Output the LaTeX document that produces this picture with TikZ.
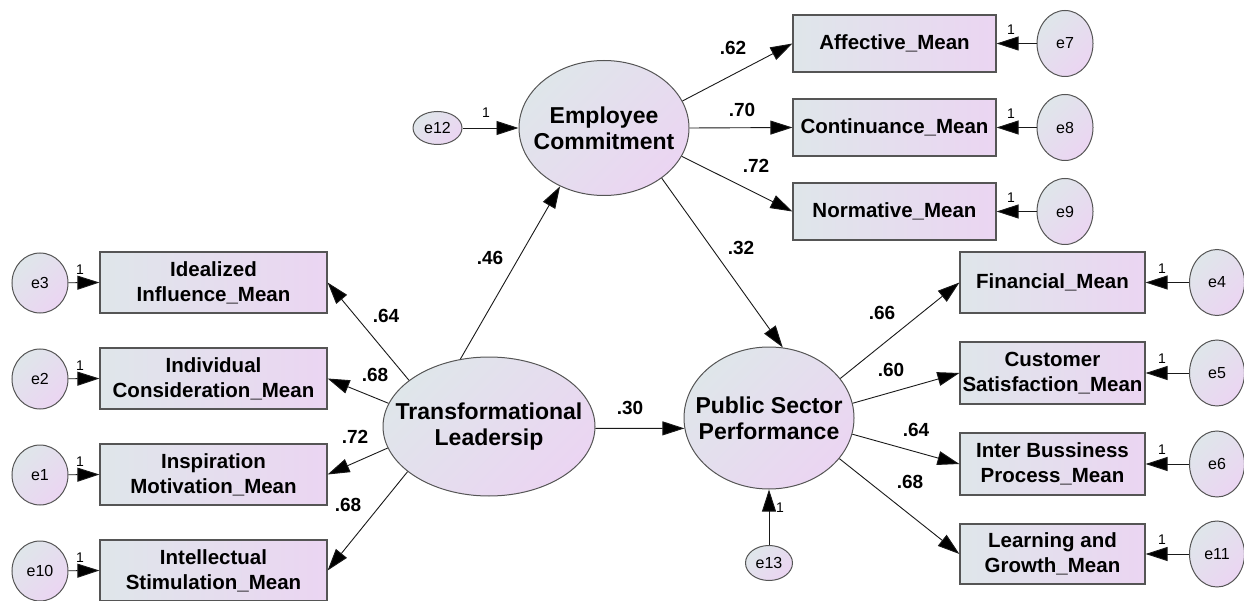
\documentclass[tikz,border=0pt]{standalone}
\usepackage{fontspec}
\setmainfont{Liberation Sans}
\usetikzlibrary{arrows.meta,shapes.geometric}
\definecolor{gA}{HTML}{DFE6EA}
\definecolor{gB}{HTML}{EBD5F2}
\definecolor{edge}{HTML}{555555}
\tikzset{
  obsbox/.style={draw=edge, line width=1.2pt, left color=gA, right color=gB,
    minimum width=#1, inner sep=0pt, align=center,
    font=\fontsize{20.5}{25}\selectfont\bfseries},
  latent/.style={ellipse, draw=edge, line width=1pt, top color=gA, bottom color=gB,
    shading angle=45, inner sep=0pt},
  lattext/.style={align=center, inner sep=0pt, font=\fontsize{23}{26}\selectfont\bfseries},
  errnode/.style={ellipse, draw=edge, line width=1pt, top color=gA, bottom color=gB,
    shading angle=45, inner sep=0pt, font=\fontsize{16}{18}\selectfont},
  path/.style={draw=black!90, line width=0.9pt, -{Triangle[length=22pt,width=14pt,fill=black]}},
  coef/.style={font=\fontsize{19}{20}\selectfont\bfseries},
  one/.style={font=\fontsize{14}{15}\selectfont}
}
\begin{document}
\begin{tikzpicture}[x=1pt,y=-1pt]
\useasboundingbox (0,0) rectangle (1244,601);
% latent variables
\node[latent, minimum width=212pt, minimum height=139pt] (TL) at (489,426.5) {};
\node[lattext] (TLt) at (TL) {Transformational\\Leadersip};
\node[latent, minimum width=170pt, minimum height=135pt] (EC) at (604,128) {};
\node[lattext] (ECt) at (EC) {Employee\\Commitment};
\node[latent, minimum width=170pt, minimum height=142pt] (PSP) at (769,418) {};
\node[lattext] (PSPt) at (PSP) {Public Sector\\Performance};
% left indicators
\node[obsbox=227pt, minimum height=61pt] (b1) at (213.5,282.5) {Idealized\\Influence\_Mean};
\node[obsbox=227pt, minimum height=61pt] (b2) at (213.5,378.5) {Individual\\Consideration\_Mean};
\node[obsbox=227pt, minimum height=61pt] (b3) at (213.5,474.5) {Inspiration\\Motivation\_Mean};
\node[obsbox=227pt, minimum height=61pt] (b4) at (213.5,570.5) {Intellectual\\Stimulation\_Mean};
% top right indicators
\node[obsbox=203pt, minimum height=57pt] (a1) at (894.5,43.5) {Affective\_Mean};
\node[obsbox=203pt, minimum height=57pt] (a2) at (894.5,127.5) {Continuance\_Mean};
\node[obsbox=203pt, minimum height=57pt] (a3) at (894.5,211.5) {Normative\_Mean};
% bottom right indicators
\node[obsbox=185pt, minimum height=61pt] (p1) at (1052.5,282.5) {Financial\_Mean};
\node[obsbox=185pt, minimum height=62pt] (p2) at (1052.5,373) {Customer\\Satisfaction\_Mean};
\node[obsbox=185pt, minimum height=62pt] (p3) at (1052.5,464) {Inter Bussiness\\Process\_Mean};
\node[obsbox=185pt, minimum height=60pt] (p4) at (1052.5,554) {Learning and\\Growth\_Mean};
% error terms
\node[errnode, minimum width=56pt, minimum height=60pt] (e3) at (40,283) {e3};
\node[errnode, minimum width=56pt, minimum height=60pt] (e2) at (40,379) {e2};
\node[errnode, minimum width=56pt, minimum height=60pt] (e1) at (40,475) {e1};
\node[errnode, minimum width=56pt, minimum height=60pt] (e10) at (40,571) {e10};
\node[errnode, minimum width=56pt, minimum height=66pt] (e7) at (1065,43.5) {e7};
\node[errnode, minimum width=56pt, minimum height=66pt] (e8) at (1065,127.5) {e8};
\node[errnode, minimum width=56pt, minimum height=66pt] (e9) at (1065,211.5) {e9};
\node[errnode, minimum width=55pt, minimum height=66pt] (e4) at (1217,282.5) {e4};
\node[errnode, minimum width=55pt, minimum height=66pt] (e5) at (1217,373) {e5};
\node[errnode, minimum width=55pt, minimum height=66pt] (e6) at (1217,464) {e6};
\node[errnode, minimum width=55pt, minimum height=66pt] (e11) at (1217,554) {e11};
\node[errnode, minimum width=49pt, minimum height=33pt] (e12) at (437.5,128) {e12};
\node[errnode, minimum width=47pt, minimum height=35pt] (e13) at (769,563) {e13};
% error arrows
\foreach \e/\b in {e3/b1,e2/b2,e1/b3,e10/b4}{\draw[path] (\e) -- (\b.west);}
\foreach \e/\b in {e7/a1,e8/a2,e9/a3,e4/p1,e5/p2,e6/p3,e11/p4}{\draw[path] (\e) -- (\b.east);}
\draw[path] (e12) -- (EC);
\draw[path] (e13) -- (PSP);
% structural and measurement paths
\draw[path] (TL.150) -- (b1.east);
\draw[path] (TL.167) -- (b2.east);
\draw[path] (TL.192) -- (b3.east);
\draw[path] (TL.209) -- (b4.east);
\draw[path] (TL.113) -- (EC.233);
\draw[path] (TL.-1) -- (PSP.187);
\draw[path] (EC.319) -- (PSP.79);
\draw[path] (EC.19.5) -- (a1.west);
\draw[path] (EC.east) -- (a2.west);
\draw[path] (EC.340.5) -- (a3.west);
\draw[path] (PSP.29) -- (p1.west);
\draw[path] (PSP.10.7) -- (p2.west);
\draw[path] (PSP.-11) -- (p3.west);
\draw[path] (PSP.-30) -- (p4.west);
% coefficients
\node[coef] (c1) at (386,316) {.64};
\node[coef] (c2) at (375,375) {.68};
\node[coef] (c3) at (355,437) {.72};
\node[coef] (c4) at (348,505) {.68};
\node[coef] (c5) at (490,258) {.46};
\node[coef] (c6) at (741,248) {.32};
\node[coef] (c7) at (630,408) {.30};
\node[coef] (c8) at (733,48) {.62};
\node[coef] (c9) at (742,110) {.70};
\node[coef] (c10) at (756,166) {.72};
\node[coef] (c11) at (882,313) {.66};
\node[coef] (c12) at (891,370) {.60};
\node[coef] (c13) at (916,430) {.64};
\node[coef] (c14) at (910,482) {.68};
% unit constraint labels
\foreach \y [count=\i] in {270,366,462,558}{\node[one] (l\i) at (80,\y) {1};}
\foreach \y [count=\i] in {30,114,198}{\node[one] (r\i) at (1011,\y) {1};}
\foreach \y [count=\i] in {269,359,450,540}{\node[one] (s\i) at (1162,\y) {1};}
\node[one] (o12) at (486,113) {1};
\node[one] (o13) at (780,508) {1};
\end{tikzpicture}
\end{document}
